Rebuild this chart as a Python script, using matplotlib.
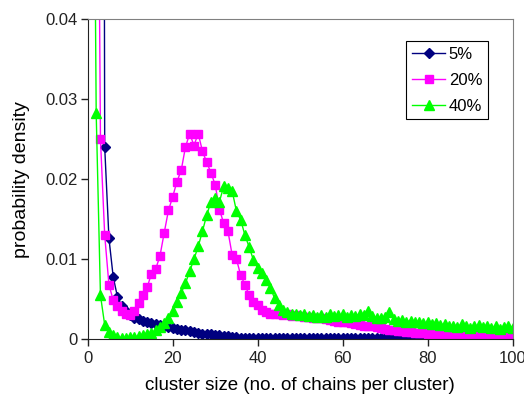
import matplotlib.pyplot as plt
import numpy as np

plt.rcParams["font.family"] = ["Liberation Sans", "DejaVu Sans"]

# cluster size (no. of chains per cluster)
sizes = np.arange(1, 101)

# 5% series
p05 = [
    0.20, 0.10, 0.30, 0.0240, 0.0126, 0.0078, 0.0053, 0.0042, 0.0035, 0.0030,
    0.0027, 0.0025, 0.0023, 0.0021, 0.0020, 0.0019, 0.0018, 0.0016, 0.0015, 0.0014,
    0.0013, 0.0012, 0.0011, 0.0010, 0.0009, 0.0008, 0.0007, 0.0006, 0.0006, 0.0005,
    0.0005, 0.0004, 0.0004, 0.0003, 0.0003, 0.0002, 0.0002, 0.0002, 0.0002, 0.0002,
] + [0.0001] * 60

# 20% series
p20 = [
    0.20, 0.10, 0.0250, 0.0130, 0.0068, 0.0049, 0.0041, 0.0035, 0.0031, 0.0030,
    0.0035, 0.0045, 0.0055, 0.0065, 0.0082, 0.0088, 0.0104, 0.0133, 0.0161, 0.0178,
    0.0197, 0.0211, 0.0240, 0.0257, 0.0242, 0.0257, 0.0235, 0.0221, 0.0208, 0.0193,
    0.0162, 0.0145, 0.0135, 0.0105, 0.0100, 0.0080, 0.0068, 0.0055, 0.0047, 0.0043,
    0.0037, 0.0034, 0.0032, 0.0031, 0.0032, 0.0030, 0.0031, 0.0029, 0.0030, 0.0029,
    0.0028, 0.0028, 0.0027, 0.0026, 0.0026, 0.0025, 0.0024, 0.0023, 0.0022, 0.0022,
    0.0021, 0.0020, 0.0019, 0.0018, 0.0017, 0.0017, 0.0016, 0.0015, 0.0014, 0.0013,
    0.0012, 0.0011, 0.0010, 0.0010, 0.0009, 0.0009, 0.0008, 0.0008, 0.0008, 0.0007,
    0.0007, 0.0006, 0.0006, 0.0006, 0.0005, 0.0005, 0.0005, 0.0004, 0.0004, 0.0004,
    0.0004, 0.0004, 0.0003, 0.0004, 0.0003, 0.0003, 0.0003, 0.0003, 0.0003, 0.0003,
]

# 40% series
p40 = [
    0.10, 0.0282, 0.0055, 0.0018, 0.0009, 0.0005, 0.0003, 0.0002, 0.0002, 0.0003,
    0.0003, 0.0004, 0.0005, 0.0006, 0.0008, 0.0011, 0.0015, 0.0020, 0.0026, 0.0035,
    0.0046, 0.0058, 0.0070, 0.0085, 0.0100, 0.0116, 0.0135, 0.0155, 0.0172, 0.0177,
    0.0172, 0.0191, 0.0189, 0.0185, 0.0160, 0.0149, 0.0130, 0.0115, 0.0099, 0.0089,
    0.0083, 0.0074, 0.0064, 0.0051, 0.0043, 0.0036, 0.0034, 0.0031, 0.0032, 0.0030,
    0.0031, 0.0029, 0.0030, 0.0028, 0.0030, 0.0028, 0.0031, 0.0029, 0.0030, 0.0031,
    0.0028, 0.0030, 0.0029, 0.0031, 0.0030, 0.0035, 0.0029, 0.0027, 0.0026, 0.0028,
    0.0034, 0.0025, 0.0023, 0.0024, 0.0022, 0.0023, 0.0021, 0.0022, 0.0020, 0.0021,
    0.0019, 0.0020, 0.0018, 0.0019, 0.0016, 0.0017, 0.0015, 0.0019, 0.0016, 0.0014,
    0.0016, 0.0018, 0.0015, 0.0016, 0.0014, 0.0016, 0.0013, 0.0015, 0.0017, 0.0014,
]

labels = ["5%", "20%", "40%"]

fig = plt.figure(figsize=(5.24, 3.98), dpi=100)
ax = fig.add_axes([87.7 / 524, 1 - 339.3 / 398, 425 / 524, 320.3 / 398])

ax.plot(sizes, p05, color="#000080", marker="D", markersize=5, lw=1, label=labels[0])
ax.plot(sizes, p20, color="#FF00FF", marker="s", markersize=6, lw=1, label=labels[1])
ax.plot(sizes, p40, color="#00FF00", marker="^", markersize=6.5, lw=1, label=labels[2])

ax.set_xlim(0, 100)
ax.set_ylim(0, 0.04)
ax.set_xticks([0, 20, 40, 60, 80, 100])
ax.set_yticks([0, 0.01, 0.02, 0.03, 0.04])
ax.set_yticklabels(["0", "0.01", "0.02", "0.03", "0.04"])
ax.tick_params(labelsize=12, direction="out", length=5, width=1, colors="#222222")
ax.tick_params(axis="y", pad=2)

for side in ["top", "right"]:
    ax.spines[side].set_color("#808080")
for side in ["left", "bottom"]:
    ax.spines[side].set_color("#222222")

ax.set_xlabel("cluster size (no. of chains per cluster)", fontsize=13.5, labelpad=8)
ax.set_ylabel("probability density", fontsize=14, labelpad=11)

leg = ax.legend(loc="upper right", bbox_to_anchor=(0.942, 0.931), borderaxespad=0,
                fontsize=12, frameon=True, fancybox=False, edgecolor="black",
                framealpha=1, handlelength=2.0, handletextpad=0.2, borderpad=0.35,
                labelspacing=0.65)
leg.get_frame().set_linewidth(0.8)

fig.savefig("out.png", dpi=100)
